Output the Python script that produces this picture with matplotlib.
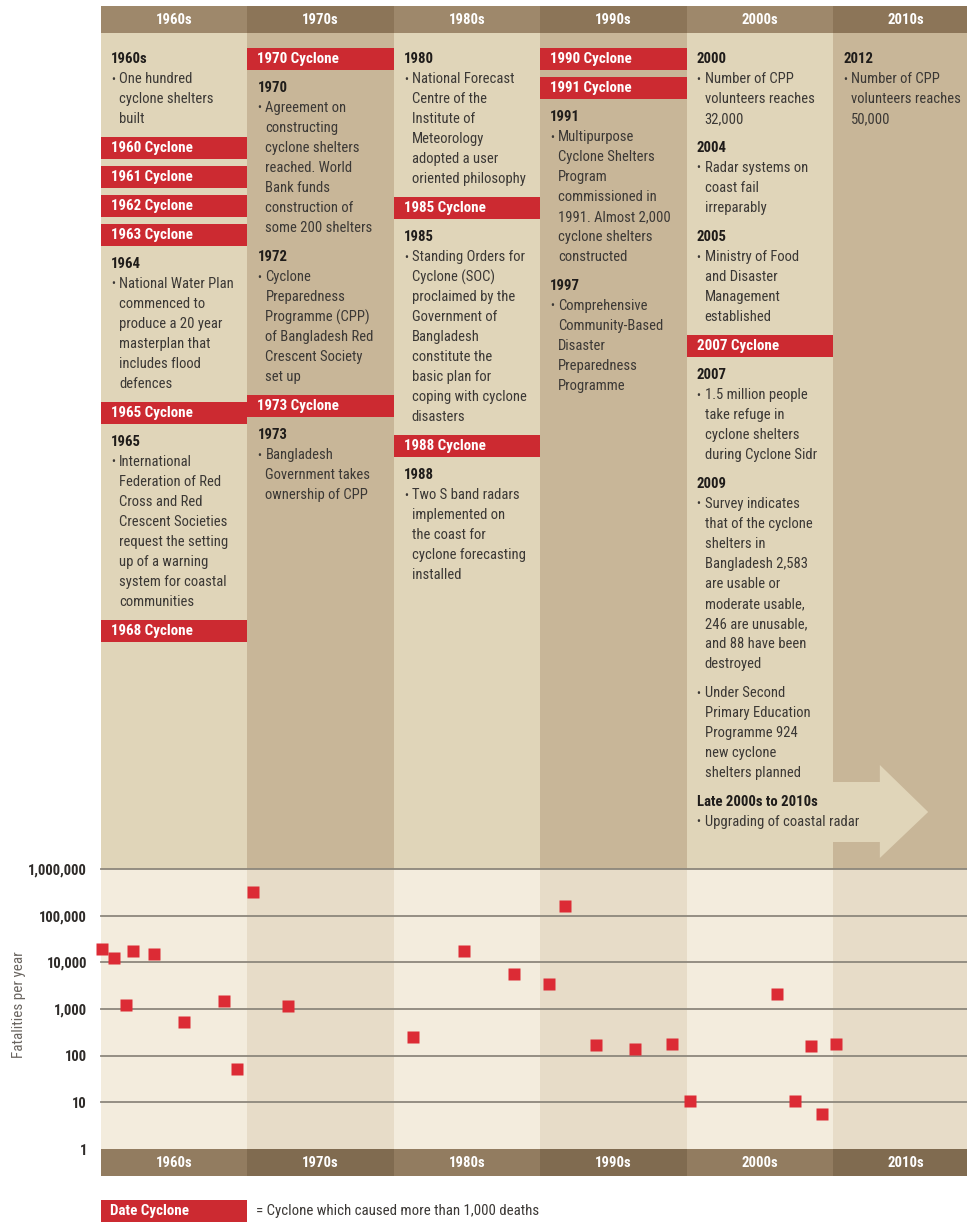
import matplotlib.pyplot as plt
from matplotlib import font_manager as fm
from matplotlib.font_manager import FontProperties
from matplotlib.textpath import TextPath
from matplotlib.patches import Rectangle, Polygon
from matplotlib.ticker import NullLocator

# ---- data ----
decades = [1960, 1970, 1980, 1990, 2000, 2010]
decade_labels = ['1960s', '1970s', '1980s', '1990s', '2000s', '2010s']

# cyclone years (position within decade) and deaths
cyclone_years = [1960.1, 1960.9, 1961.7, 1962.2, 1963.6, 1965.7, 1968.4, 1969.3,
                 1970.35, 1972.8, 1981.3, 1984.8, 1988.2, 1990.6, 1991.7,
                 1993.8, 1996.45, 1999.0, 2000.2, 2006.2, 2007.4, 2008.5,
                 2009.25, 2010.2]
fatalities = [19300, 12600, 1220, 17200, 14800, 535, 1460, 51,
              321000, 1180, 247, 17300, 5700, 3380, 158000,
              172, 139, 178, 10.8, 2060, 10.5, 161,
              5.5, 178]

ytick_vals = [1, 10, 100, 1000, 10000, 100000, 1000000]
ytick_labels = ['1', '10', '100', '1,000', '10,000', '100,000', '1,000,000']

# timeline text, one list per decade column
col_1960s = [
    ('year', '1960s'), ('bullet', ['One hundred', 'cyclone shelters', 'built']),
    ('cyclone', '1960 Cyclone'), ('cyclone', '1961 Cyclone'),
    ('cyclone', '1962 Cyclone'), ('cyclone', '1963 Cyclone'),
    ('year', '1964'),
    ('bullet', ['National Water Plan', 'commenced to', 'produce a 20 year',
                'masterplan that', 'includes flood', 'defences']),
    ('cyclone', '1965 Cyclone'),
    ('year', '1965'),
    ('bullet', ['International', 'Federation of Red', 'Cross and Red',
                'Crescent Societies', 'request the setting', 'up of a warning',
                'system for coastal', 'communities']),
    ('cyclone', '1968 Cyclone'),
]
col_1970s = [
    ('cyclone', '1970 Cyclone'),
    ('year', '1970'),
    ('bullet', ['Agreement on', 'constructing', 'cyclone shelters',
                'reached. World', 'Bank funds', 'construction of',
                'some 200 shelters']),
    ('year', '1972'),
    ('bullet', ['Cyclone', 'Preparedness', 'Programme (CPP)',
                'of Bangladesh Red', 'Crescent Society', 'set up']),
    ('cyclone', '1973 Cyclone'),
    ('year', '1973'),
    ('bullet', ['Bangladesh', 'Government takes', 'ownership of CPP']),
]
col_1980s = [
    ('year', '1980'),
    ('bullet', ['National Forecast', 'Centre of the', 'Institute of',
                'Meteorology', 'adopted a user', 'oriented philosophy']),
    ('cyclone', '1985 Cyclone'),
    ('year', '1985'),
    ('bullet', ['Standing Orders for', 'Cyclone (SOC)', 'proclaimed by the',
                'Government of', 'Bangladesh', 'constitute the',
                'basic plan for', 'coping with cyclone', 'disasters']),
    ('cyclone', '1988 Cyclone'),
    ('year', '1988'),
    ('bullet', ['Two S band radars', 'implemented on', 'the coast for',
                'cyclone forecasting', 'installed']),
]
col_1990s = [
    ('cyclone', '1990 Cyclone'), ('cyclone', '1991 Cyclone'),
    ('year', '1991'),
    ('bullet', ['Multipurpose', 'Cyclone Shelters', 'Program',
                'commissioned in', '1991. Almost 2,000', 'cyclone shelters',
                'constructed']),
    ('year', '1997'),
    ('bullet', ['Comprehensive', 'Community-Based', 'Disaster',
                'Preparedness', 'Programme']),
]
col_2000s = [
    ('year', '2000'),
    ('bullet', ['Number of CPP', 'volunteers reaches', '32,000']),
    ('year', '2004'),
    ('bullet', ['Radar systems on', 'coast fail', 'irreparably']),
    ('year', '2005'),
    ('bullet', ['Ministry of Food', 'and Disaster', 'Management', 'established']),
    ('cyclone', '2007 Cyclone'),
    ('year', '2007'),
    ('bullet', ['1.5 million people', 'take refuge in', 'cyclone shelters',
                'during Cyclone Sidr']),
    ('year', '2009'),
    ('bullet', ['Survey indicates', 'that of the cyclone', 'shelters in',
                'Bangladesh 2,583', 'are usable or', 'moderate usable,',
                '246 are unusable,', 'and 88 have been', 'destroyed']),
    ('bullet', ['Under Second', 'Primary Education', 'Programme 924',
                'new cyclone', 'shelters planned']),
    ('year', 'Late 2000s to 2010s'),
    ('bullet', ['Upgrading of coastal radar']),
]
col_2010s = [
    ('year', '2012'),
    ('bullet', ['Number of CPP', 'volunteers reaches', '50,000']),
]
columns = [col_1960s, col_1970s, col_1980s, col_1990s, col_2000s, col_2010s]


# ---- font: prefer a condensed face, the original uses one ----
def pick_font():
    fl = fm.fontManager.ttflist
    names = {f.name for f in fl}
    for n in ['Liberation Sans Narrow', 'Roboto Condensed', 'Open Sans Condensed',
              'Noto Sans Condensed', 'DejaVu Sans Condensed']:
        if n in names:
            return n, 'normal'
    narrow = ('condensed', 'semi-condensed', 'extra-condensed', 'ultra-condensed')
    for n in ['DejaVu Sans', 'Noto Sans', 'Roboto', 'Open Sans', 'Liberation Sans']:
        if any(f.name == n and f.stretch in narrow for f in fl):
            return n, 'condensed'
    for f in fl:
        if 'Condensed' in f.name or 'Narrow' in f.name:
            return f.name, 'normal'
    return ('Roboto' if 'Roboto' in names else 'DejaVu Sans'), 'normal'


FAM, STRETCH = pick_font()
plt.rcParams['font.family'] = [FAM, 'DejaVu Sans']
plt.rcParams['font.stretch'] = STRETCH


def fit(s, target_px, weight='normal', cap=10.0):
    fp = FontProperties(family=[FAM, 'DejaVu Sans'], stretch=STRETCH,
                        weight=weight, size=10)
    w = TextPath((0, 0), s, size=10, prop=fp).get_extents().width * 100 / 72
    return min(cap, 10 * target_px / w)


FS_BODY = fit('National Water Plan', 113, cap=10.5)
FS_BOX = fit('1960 Cyclone', 80, 'bold', cap=11)
FS_YEAR = fit('1960s', 35, 'bold', cap=11)
FS_DEC = fit('1960s', 35, 'bold', cap=12)
FS_TICK = fit('1,000,000', 57, 'bold', cap=12)
FS_YLAB = fit('Fatalities per year', 105, cap=11)
FS_LEG = fit('= Cyclone which caused more than 1,000 deaths', 282, cap=11)

# ---- styling ----
W, H = 967, 1223
LEFT = 101
PX_YR = 14.64
XMAX = 1960 + (W - LEFT) / PX_YR
TOP_END = 869      # pixel row of the 1,000,000 line
AX_END = 1176      # bottom of the decade band
DEC_PX = 46.67

RED = '#cc2a31'
MARK_RED = '#dc2b35'
TXT = '#3b3835'
HEAD_TXT = '#1f1c1a'
col_top = ['#e0d5b9', '#c8b698']
col_head = ['#9e886b', '#8c7558']
col_plot = ['#f3ecdd', '#e7dcc8']
col_band = ['#927c60', '#806b50']

fig = plt.figure(figsize=(W / 100, H / 100), dpi=100)
fig.patch.set_facecolor('white')

# ---- timeline panel (x in years, y in pixels) ----
ax_top = fig.add_axes([LEFT / W, 1 - TOP_END / H, (W - LEFT) / W, TOP_END / H])
ax_top.set_xlim(1960, XMAX)
ax_top.set_ylim(TOP_END, 0)
ax_top.axis('off')

for i, (d, lab) in enumerate(zip(decades, decade_labels)):
    ax_top.add_patch(Rectangle((d, 33), 10, TOP_END - 33, color=col_top[i % 2], lw=0))
    ax_top.add_patch(Rectangle((d, 6), 10, 27, color=col_head[i % 2], lw=0))
    ax_top.text(d + 5, 20, lab, ha='center', va='center', color='white',
                fontsize=FS_DEC, fontweight='bold')

# arrow into the 2010s
arrow = Polygon([(2009.9, 782), (2013.2, 782), (2013.2, 765), (2016.5, 812),
                 (2013.2, 858), (2013.2, 842), (2009.9, 842)],
                closed=True, color=col_top[0], lw=0)
ax_top.add_patch(arrow)

off_head = 10 / PX_YR
off_text = 18 / PX_YR
for d, items in zip(decades, columns):
    y = 59
    for kind, val in items:
        if kind == 'cyclone':
            ax_top.add_patch(Rectangle((d, y - 11), 10, 22, color=RED, lw=0))
            ax_top.text(d + off_head, y, val, ha='left', va='center',
                        color='white', fontsize=FS_BOX, fontweight='bold')
            y += 29
        elif kind == 'year':
            ax_top.text(d + off_head, y, val, ha='left', va='center',
                        color=HEAD_TXT, fontsize=FS_YEAR, fontweight='bold')
            y += 20
        else:
            ax_top.text(d + off_head, y, '\u2022', ha='left', va='center',
                        color=TXT, fontsize=FS_BODY * 0.8)
            for line in val:
                ax_top.text(d + off_text, y, line, ha='left', va='center',
                            color=TXT, fontsize=FS_BODY)
                y += 20
            y += 9

# ---- fatalities panel ----
ax = fig.add_axes([LEFT / W, 1 - AX_END / H, (W - LEFT) / W, (AX_END - TOP_END) / H])
ymin = 10 ** (-(AX_END - 1149) / DEC_PX)
ax.set_yscale('log')
ax.set_ylim(ymin, 1e6)
ax.set_xlim(1960, XMAX)

for i, (d, lab) in enumerate(zip(decades, decade_labels)):
    ax.add_patch(Rectangle((d, 1), 10, 1e6 - 1, color=col_plot[i % 2], lw=0, zorder=0))
    ax.add_patch(Rectangle((d, ymin), 10, 1 - ymin, color=col_band[i % 2], lw=0, zorder=1))
    ax.text(d + 5, 10 ** (-(1162.5 - 1149) / DEC_PX), lab, ha='center', va='center',
            color='white', fontsize=FS_DEC, fontweight='bold', zorder=3)

for v in ytick_vals[1:]:
    ax.axhline(v, color='#8d877c', lw=1.3, zorder=2, clip_on=False)

ax.plot(cyclone_years, fatalities, 's', ms=8.4, color=MARK_RED, mec='none',
        zorder=5, clip_on=False)

ax.set_yticks(ytick_vals)
ax.set_yticklabels(ytick_labels, fontsize=FS_TICK, fontweight='bold', color='#2e2b29')
ax.yaxis.set_minor_locator(NullLocator())
ax.set_xticks([])
ax.tick_params(axis='y', length=0, pad=10)
for s in ax.spines.values():
    s.set_visible(False)

fig.text(19 / W, 1 - 1005 / H, 'Fatalities per year', rotation=90,
         ha='center', va='center', fontsize=FS_YLAB, color='#6a6560')

# ---- legend ----
fig.add_artist(Rectangle((LEFT / W, 1 - 1222 / H), 146 / W, 22 / H,
                         transform=fig.transFigure, color=RED, lw=0))
fig.text(110 / W, 1 - 1211 / H, 'Date Cyclone', ha='left', va='center',
         color='white', fontsize=FS_BOX, fontweight='bold')
fig.text(256 / W, 1 - 1211 / H, '= Cyclone which caused more than 1,000 deaths',
         ha='left', va='center', color=TXT, fontsize=FS_LEG)

fig.savefig('out.png', dpi=100)
